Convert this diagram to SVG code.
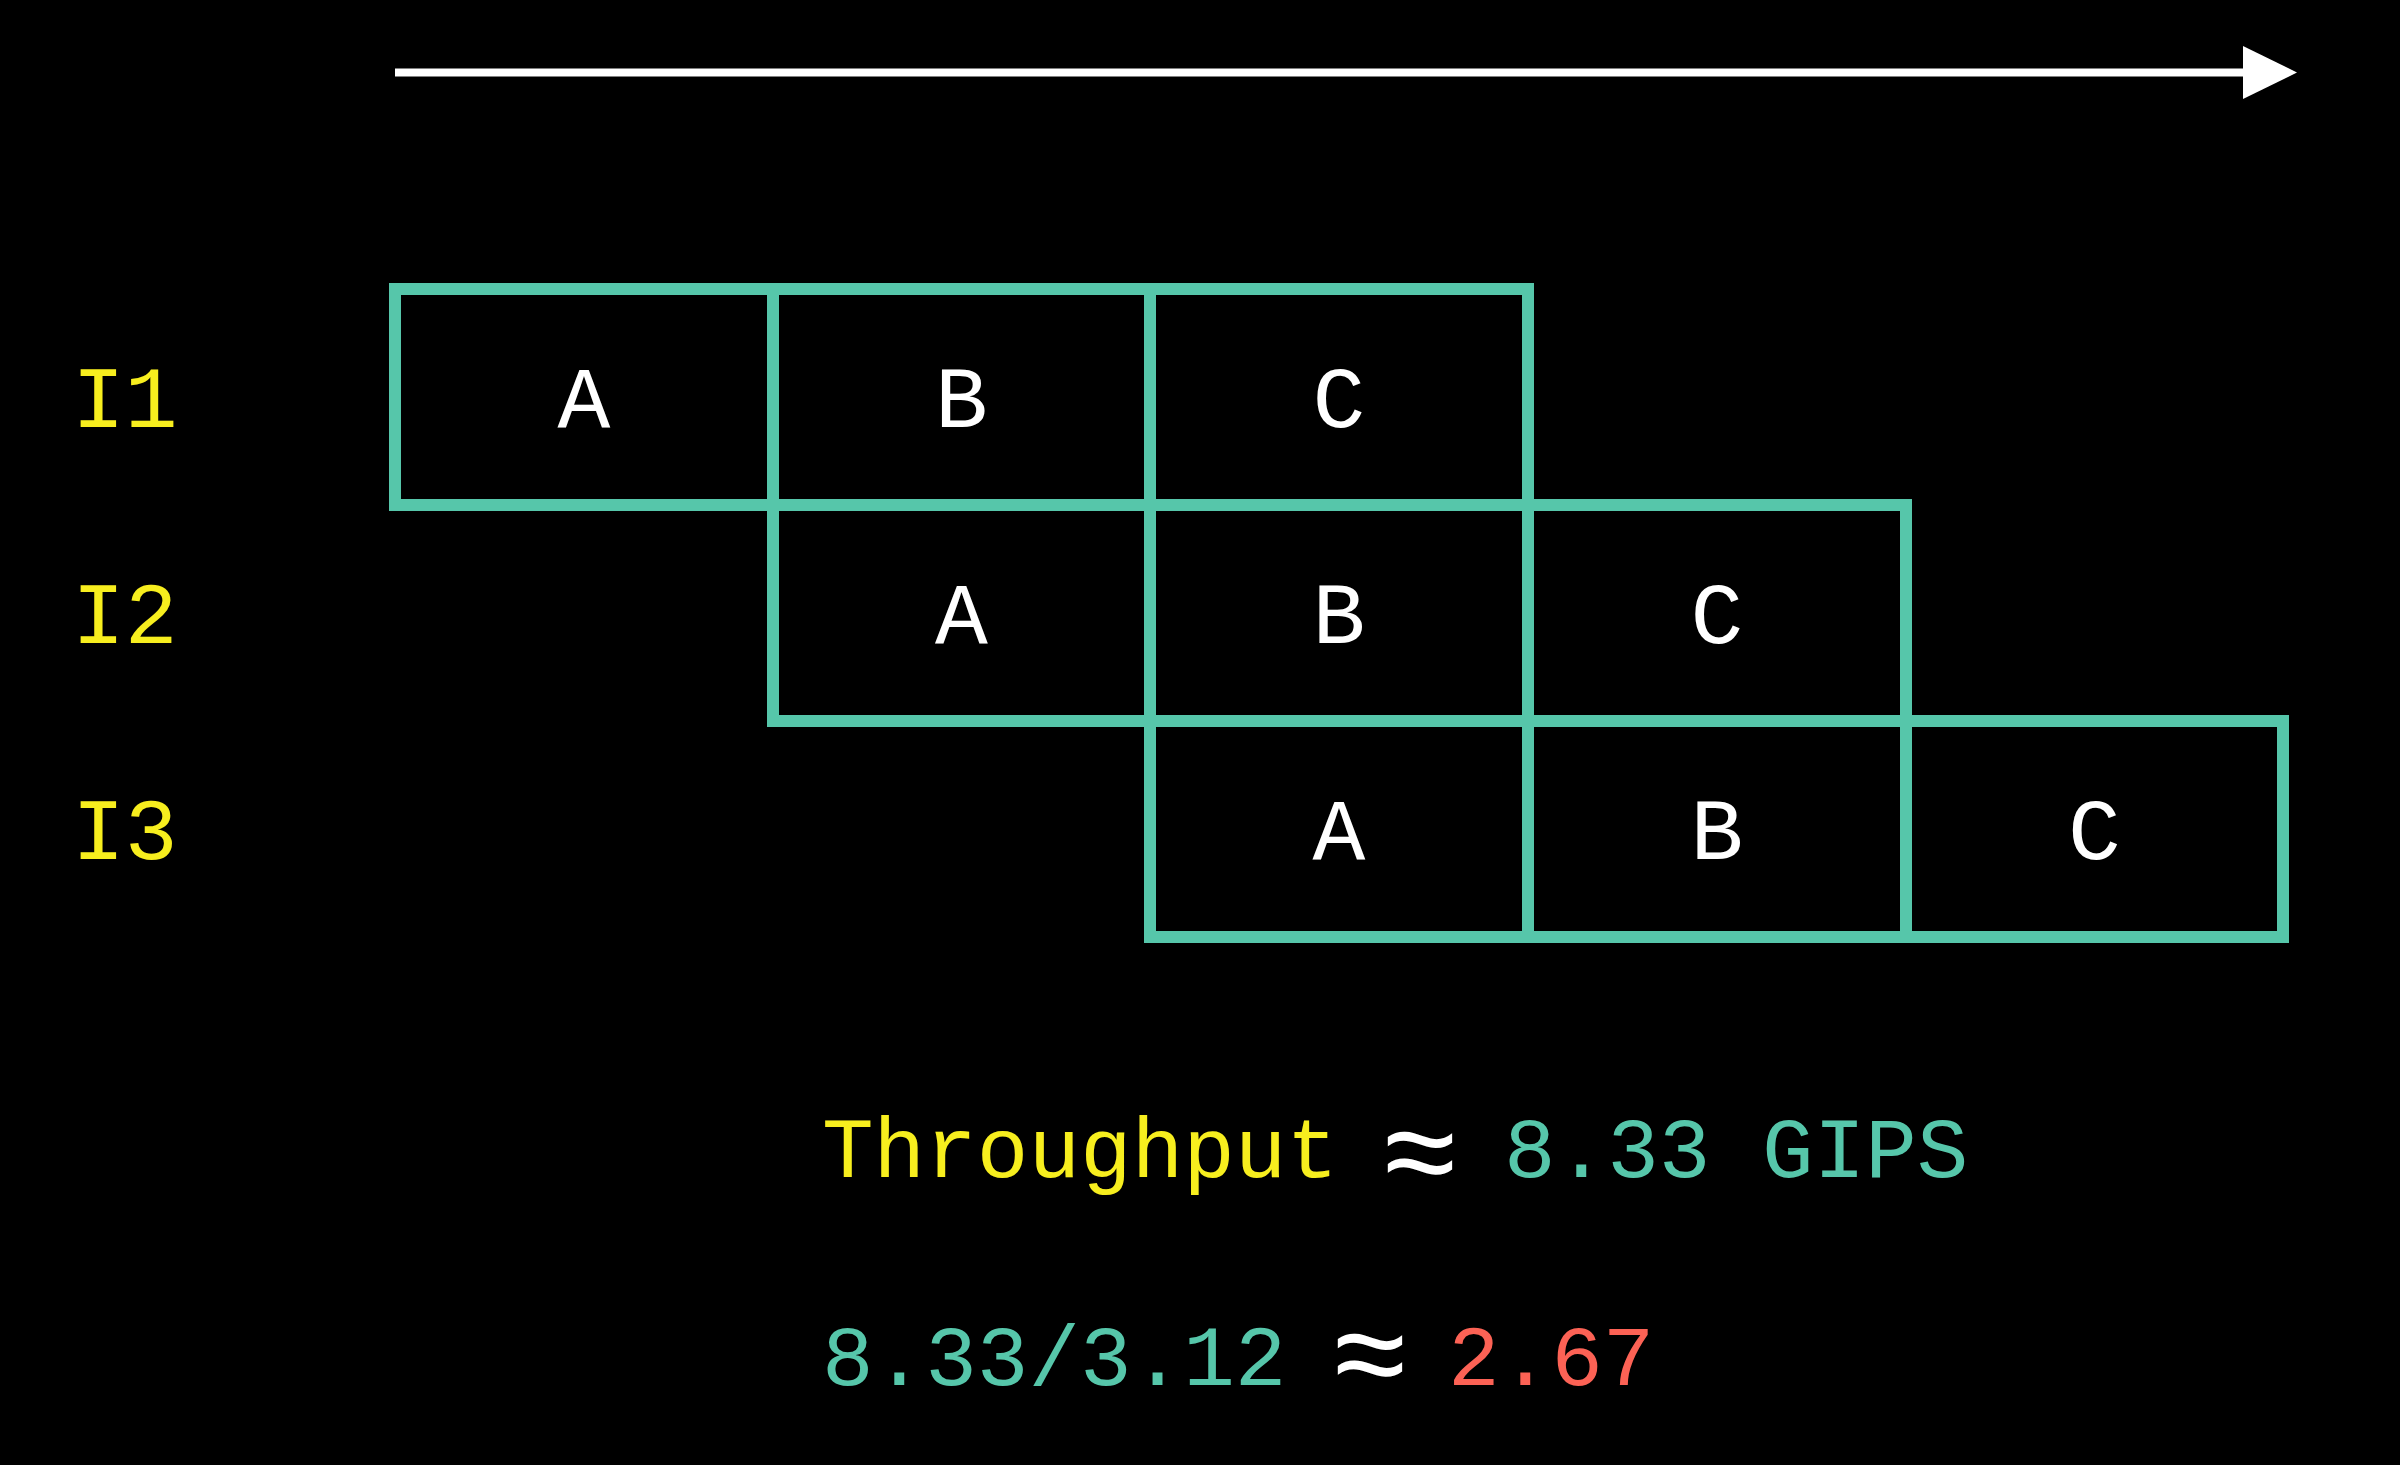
<svg xmlns="http://www.w3.org/2000/svg" width="2400" height="1465" viewBox="0 0 2400 1465">
<style>
.cell{fill:none;stroke:#56C6AA;stroke-width:12;stroke-linejoin:miter}
.t{font-family:"Liberation Mono","DejaVu Sans Mono",monospace;font-size:88px}
.s{font-size:86px}
.lt{fill:#FFFFFF;text-anchor:middle}
.lbl{fill:#F7EE1E}
.y{fill:#F7EE1E}
.g{fill:#56C6AA}
.r{fill:#FC6255}
.ap{fill:#FFFFFF;font-size:130px;text-anchor:middle}
</style>
<rect x="0" y="0" width="2400" height="1465" fill="#000000"/>
<g id="connectors">
<line x1="395" y1="72.5" x2="2246" y2="72.5" stroke="#FFFFFF" stroke-width="8"/>
<polygon points="2243,46 2297,72.5 2243,99" fill="#FFFFFF"/>
</g>
<g id="label-I1"><text class="t lbl" x="72" y="427">I1</text></g>
<g id="label-I2"><text class="t lbl" x="72" y="643">I2</text></g>
<g id="label-I3"><text class="t lbl" x="72" y="859">I3</text></g>
<g id="I1-A"><rect class="cell" x="395" y="289" width="378" height="216"/><text class="t lt" x="584" y="427">A</text></g>
<g id="I1-B"><rect class="cell" x="773" y="289" width="377" height="216"/><text class="t lt" x="961.5" y="427">B</text></g>
<g id="I1-C"><rect class="cell" x="1150" y="289" width="378" height="216"/><text class="t lt" x="1339" y="427">C</text></g>
<g id="I2-A"><rect class="cell" x="773" y="505" width="377" height="216"/><text class="t lt" x="961.5" y="643">A</text></g>
<g id="I2-B"><rect class="cell" x="1150" y="505" width="378" height="216"/><text class="t lt" x="1339" y="643">B</text></g>
<g id="I2-C"><rect class="cell" x="1528" y="505" width="378" height="216"/><text class="t lt" x="1717" y="643">C</text></g>
<g id="I3-A"><rect class="cell" x="1150" y="721" width="378" height="216"/><text class="t lt" x="1339" y="859">A</text></g>
<g id="I3-B"><rect class="cell" x="1528" y="721" width="378" height="216"/><text class="t lt" x="1717" y="859">B</text></g>
<g id="I3-C"><rect class="cell" x="1906" y="721" width="377" height="216"/><text class="t lt" x="2094.5" y="859">C</text></g>
<g id="throughput">
<text class="t s y" x="822" y="1177">Throughput</text>
<text class="t ap" x="1420" y="1196">≈</text>
<text class="t s g" x="1504" y="1177">8.33 GIPS</text>
</g>
<g id="ratio">
<text class="t s g" x="822" y="1385">8.33/3.12</text>
<text class="t ap" x="1370" y="1398">≈</text>
<text class="t s r" x="1448" y="1385">2.67</text>
</g>
</svg>
